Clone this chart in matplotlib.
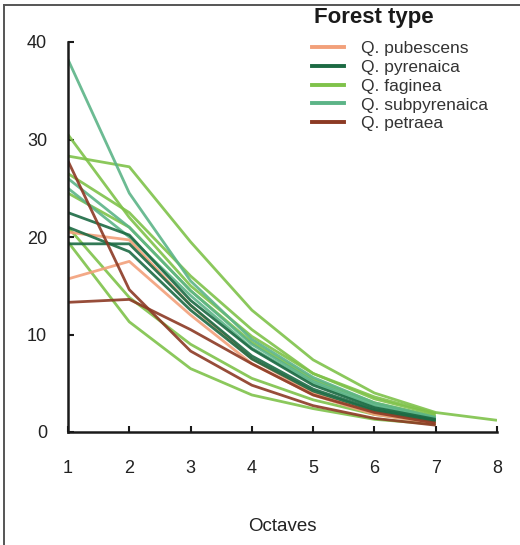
import matplotlib
matplotlib.use("Agg")
import matplotlib.pyplot as plt
from matplotlib.lines import Line2D

plt.rcParams["font.family"] = ["Liberation Sans", "DejaVu Sans"]

octaves = [1, 2, 3, 4, 5, 6, 7, 8]

species = ["Q. pubescens", "Q. pyrenaica", "Q. faginea", "Q. subpyrenaica", "Q. petraea"]
colors = {
    "Q. pubescens": "#F2A07A",
    "Q. pyrenaica": "#1C6A43",
    "Q. faginea": "#7FC24A",
    "Q. subpyrenaica": "#5CB487",
    "Q. petraea": "#8C3A24",
}

# species richness per octave, one list per plot
pubescens = [
    [20.5, 19.7, 13.0, 7.5, 4.0, 2.0, 1.0],
    [15.7, 17.5, 12.0, 7.0, 3.8, 1.8, 0.9],
]
pyrenaica = [
    [22.5, 20.2, 13.5, 8.5, 4.8, 2.5, 1.3],
    [21.0, 18.5, 12.5, 7.5, 4.2, 2.2, 1.1],
    [19.3, 19.3, 13.0, 7.8, 4.4, 2.3, 1.2],
]
faginea = [
    [30.5, 22.0, 15.0, 9.8, 6.0, 3.4, 1.8],
    [28.3, 27.2, 19.5, 12.5, 7.4, 4.0, 2.0, 1.2],
    [26.5, 22.5, 16.0, 10.5, 6.0, 3.6, 1.9],
    [24.5, 21.0, 14.5, 9.2, 5.4, 3.0, 1.6],
    [21.0, 13.8, 9.0, 5.5, 3.3, 1.8, 1.0],
    [19.5, 11.3, 6.5, 3.8, 2.4, 1.3, 0.8],
]
subpyrenaica = [
    [38.2, 24.5, 15.5, 9.5, 5.6, 3.0, 1.5],
    [26.0, 21.0, 14.5, 9.0, 5.2, 2.8, 1.4],
    [25.0, 20.0, 14.0, 8.6, 5.0, 2.6, 1.3],
]
petraea = [
    [27.8, 14.6, 8.3, 4.8, 2.7, 1.4, 0.7],
    [13.3, 13.6, 10.5, 7.0, 3.8, 2.0, 0.9],
]

series = {
    "Q. pubescens": pubescens,
    "Q. pyrenaica": pyrenaica,
    "Q. faginea": faginea,
    "Q. subpyrenaica": subpyrenaica,
    "Q. petraea": petraea,
}

x_ticks = [1, 2, 3, 4, 5, 6, 7, 8]
y_ticks = [0, 10, 20, 30, 40]

W, H = 520, 545
fig = plt.figure(figsize=(W / 100, H / 100), dpi=100)
ax = fig.add_axes([68 / W, 1 - 432 / H, (497 - 68) / W, (432 - 42) / H])

draw_order = ["Q. faginea", "Q. subpyrenaica", "Q. pubescens", "Q. pyrenaica", "Q. petraea"]
for sp in draw_order:
    for vals in series[sp]:
        ax.plot(octaves[:len(vals)], vals, color=colors[sp], lw=2.0,
                alpha=0.9, solid_capstyle="butt", solid_joinstyle="round")

ax.set_xlim(1, 8)
ax.set_ylim(0, 40)
ax.set_xticks(x_ticks)
ax.set_yticks(y_ticks)
for side in ("top", "right"):
    ax.spines[side].set_visible(False)
for side in ("left", "bottom"):
    ax.spines[side].set_linewidth(1.8)
    ax.spines[side].set_color("#1a1a1a")
ax.tick_params(axis="both", direction="in", length=4.5, width=1.5,
               color="#1a1a1a", labelsize=13, labelcolor="#222222")
ax.tick_params(axis="y", pad=15)
ax.tick_params(axis="x", pad=20)
ax.set_xlabel("Octaves", fontsize=13.5, color="#222222", labelpad=30)

# legend title drawn on its own so the gap below it can be set freely
fig.text(314 / W, 1 - 18 / H, "Forest type", fontsize=16, fontweight="bold",
         color="#1a1a1a", ha="left", va="center")

handles = [Line2D([0], [0], color=colors[sp], lw=2.8) for sp in species]
leg = fig.legend(handles, species, loc="upper left",
                 bbox_to_anchor=(312 / W, 1 - 41 / H), frameon=False,
                 fontsize=12.5, handlelength=1.85,
                 handletextpad=1.0, labelspacing=0.21, borderaxespad=0,
                 borderpad=0)
for t in leg.get_texts():
    t.set_color("#333333")

# frame along the top and left edges
fig.add_artist(Line2D([4 / W, 1], [1 - 5 / H, 1 - 5 / H],
                      transform=fig.transFigure, color="#555555", lw=1.4))
fig.add_artist(Line2D([4 / W, 4 / W], [0, 1 - 5 / H],
                      transform=fig.transFigure, color="#555555", lw=1.4))

fig.savefig("out.png", dpi=100, facecolor="white")
